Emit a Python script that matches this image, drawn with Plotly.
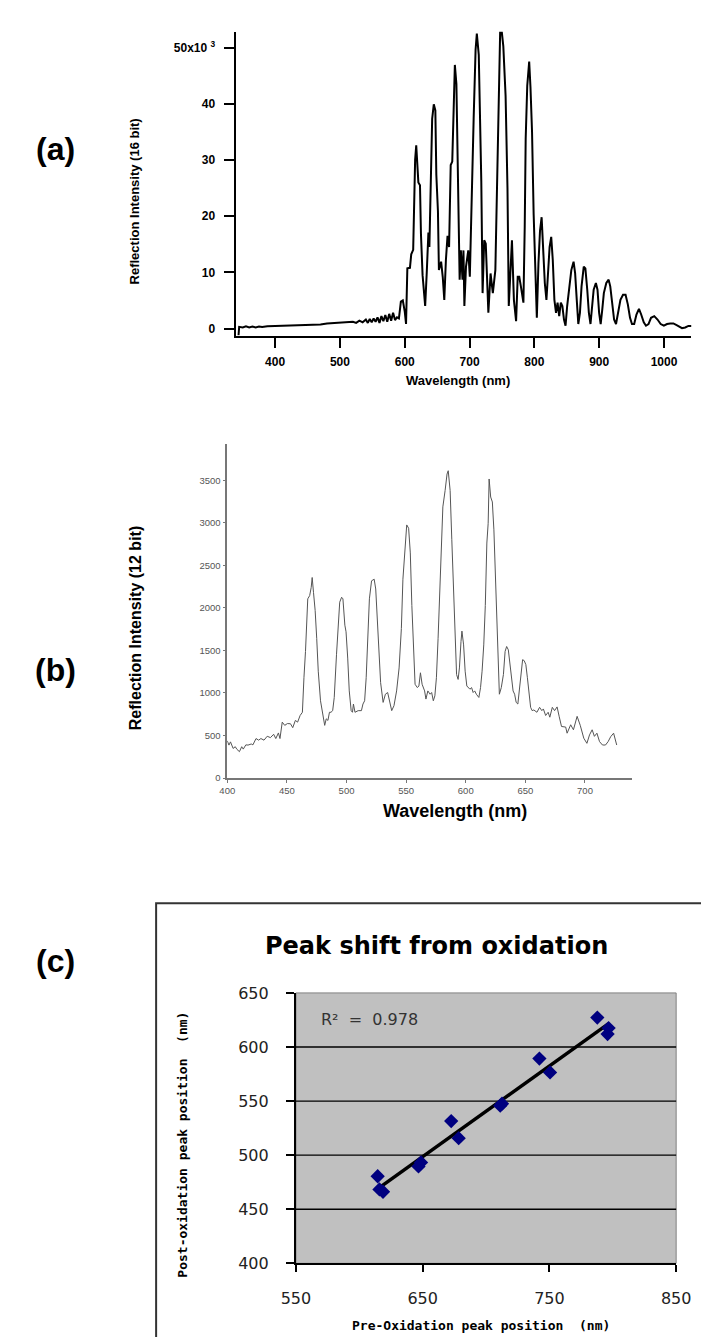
import numpy as np
import plotly.graph_objects as go

W, H = 709, 1337

# ---------------- Panel (a): 16-bit reflection spectrum (values in x10^3) ----------------
wl_a = [343.5, 344.5, 350, 355, 360, 365, 370, 375, 380, 388, 400, 420, 440, 455, 470, 480, 490, 500,
        510, 520, 525, 530, 535, 540, 543, 546, 549, 552, 555, 558, 561, 564, 567, 570, 573, 576, 579,
        582, 585, 588, 591, 594, 597, 600, 602, 604, 608, 610, 613, 614.5, 616, 617.7, 619, 621, 623.5,
        625, 627.5, 631.5, 634, 636.5, 638, 640.4, 642.3, 644.8, 647.2, 648.7, 651.2, 652.7, 656.1,
        658.6, 661, 663.5, 666, 668.4, 670.9, 673.3, 675.8, 677.3, 679.7, 681.7, 683.2, 684.7, 686.6,
        689.1, 690.6, 692, 694.5, 698, 700.4, 702.9, 706.3, 709.3, 711.2, 714.2, 716.2, 718.1, 720.1,
        722.6, 725, 729, 732.4, 735.9, 739.8, 742.3, 744.7, 747.2, 749.7, 752.1, 755.6, 758.5, 760.5,
        763, 765.4, 768.4, 771.8, 774.3, 776.7, 779.2, 783.1, 785.1, 786.6, 789, 792, 794, 796.4, 798.9,
        801.4, 803.8, 806.3, 808.7, 811.2, 813.7, 816.1, 818.6, 821, 823.5, 826, 828.4, 830.9, 833.4,
        835.8, 838.3, 840.8, 843.2, 845.7, 848.1, 850.6, 853.1, 857, 860.5, 862.9, 865.4, 867.8, 870.3,
        872.8, 876.2, 878.7, 881.6, 884.1, 886.6, 888.5, 891.5, 894.9, 897.4, 899.9, 902.3, 904.8,
        907.2, 911, 914.6, 917.1, 920, 923, 926, 929.4, 932.8, 936.8, 940.7, 944.2, 947.6, 950.6, 954,
        957.5, 961.4, 964.8, 968.8, 972.2, 976.1, 980, 985, 990, 994.9, 999.8, 1004.7, 1009.6, 1014.5,
        1019.5, 1024.4, 1027.8, 1032.8, 1037.7, 1042.4]
int_a = [-1.2, 0.3, 0.2, 0.4, 0.2, 0.35, 0.2, 0.35, 0.25, 0.4, 0.45, 0.5, 0.55, 0.6, 0.7, 0.9, 1.0, 1.05,
         1.1, 1.2, 1.0, 1.4, 1.1, 1.6, 1.0, 1.7, 1.1, 1.8, 1.2, 2.0, 1.0, 2.2, 1.3, 2.4, 1.2, 2.6, 1.4,
         2.8, 1.5, 2.0, 1.8, 4.8, 5.0, 3.0, 0.8, 10.7, 10.8, 13.2, 14.0, 26.0, 30.0, 32.6, 30.0, 26.0, 25.5,
         16.8, 9.5, 4.0, 10.1, 17.1, 14.5, 26.2, 37.3, 39.9, 38.8, 27.4, 20.9, 10.4, 11.9,
         9.2, 5.1, 12.2, 16.5, 14.5, 29.1, 29.7, 42.3, 46.9, 43.5, 32.0, 20.9, 8.7, 13.9,
         8.7, 13.9, 4.0, 11.0, 13.9, 9.2, 19.2, 37.3, 49.6, 52.5, 48.7, 39.6, 26.2, 6.3,
         15.7, 15.1, 2.8, 9.8, 6.3, 10.4, 26.2, 41.4, 52.8, 52.8, 50.2, 41.4, 25.0, 4.0,
         11.0, 15.7, 5.1, 1.3, 9.2, 9.2, 7.5, 4.6, 18.0, 33.8, 43.2, 47.5, 42.9, 35.0, 20.3,
         8.7, 1.9, 11.6, 17.4, 19.8, 13.3, 8.1, 5.1, 11.0, 14.5, 16.3, 12.2, 5.1, 2.8,
         4.6, 2.2, 4.6, 4.0, 1.6, 0.5, 4.0, 6.9, 10.4, 11.9, 9.8, 5.1, 0.8, 2.8,
         7.5, 11.0, 10.7, 6.9, 2.8, 0.8, 3.4, 6.9, 8.1, 6.9, 2.8, 0.8, 3.4,
         6.3, 8.1, 8.7, 7.5, 4.6, 1.6, 0.8, 2.8, 5.1, 6.0, 6.0, 4.3, 1.9, 0.8, 0.8,
         2.5, 3.5, 2.5, 1.1, 0.5, 0.8, 1.9, 2.2, 1.6, 0.8, 0.5, 0.8, 0.9, 0.9,
         0.6, 0.35, 0.06, 0.18, 0.46, 0.46]
xticks_a = [400, 500, 600, 700, 800, 900, 1000]
yticks_a = [0, 10, 20, 30, 40, 50]
ytext_a = ["0", "10", "20", "30", "40", "50x10 <sup>3</sup>"]

# ---------------- Panel (b): 12-bit reflection spectrum ----------------
wl_b = [400, 401.4, 402.7, 404.9, 406.7, 408.1, 410.2, 412.1, 413.4, 415.6, 417.4, 420.1, 421.5, 424.1,
        426.3, 428.2, 430.8, 433.5, 436.2, 438.9, 440.7, 442.9, 444.2, 446.1, 448.2, 450.4, 453, 454.9,
        457.1, 459, 461.1, 463, 464.3, 465.6, 467.5, 469.1, 470.4, 471.2, 472.3, 473.7, 475, 476.3,
        478.2, 479.8, 481.7, 483, 484.4, 485.7, 487, 488.4, 489.7, 491.6, 493.2, 494.3, 495.9, 497,
        498.6, 499.6, 501, 502.3, 503.9, 505, 505.8, 507.1, 509.8, 512.5, 513.8, 515.2, 516.5, 517.8,
        519.2, 521, 523.2, 524.5, 525.9, 527.2, 528.6, 530.7, 532.6, 534.5, 536.1, 537.9, 539.8, 542,
        544.1, 546, 547.3, 549.2, 550.5, 552.1, 553.5, 554.8, 556.1, 557.5, 559.4, 560.7, 562, 563.4,
        565.5, 566.6, 568.2, 570.1, 571.4, 572.8, 574.1, 575.4, 576.8, 578.1, 579.4, 580.8, 582.7,
        584.3, 585.3, 586.9, 588.3, 589.6, 591, 592.3, 593.6, 594.7, 596, 596.8, 598.2, 599.5, 600.9,
        602.2, 603.5, 604.9, 606.2, 607.5, 608.9, 611, 612.4, 613.7, 615.1, 616.4, 617.7, 618.8, 619.6,
        620.9, 622.3, 623.6, 625, 625.8, 626.8, 628.2, 629.8, 631.6, 633, 634.3, 635.7, 637, 638.3,
        639.7, 641, 642.3, 643.7, 645, 646.4, 647.7, 649, 650.4, 651.7, 653.1, 654.4, 655.7, 657.1,
        659.7, 661.9, 663.8, 665.1, 667, 669.1, 670.5, 672.6, 674.5, 676.6, 678.4, 680.3, 683.8, 685,
        688, 690.3, 693.4, 696, 699, 701.6, 703.8, 706, 707.9, 710, 712.2, 714.7, 717.2, 719.4, 721.6,
        724, 726.6]
int_b = [437, 387, 425, 348, 368, 337, 310, 368, 340, 390, 387, 400, 390, 464, 445, 464, 445, 491, 475,
         514, 464, 530, 464, 657, 619, 640, 638, 592, 677, 657, 735, 773, 1179, 1488, 2106, 2144, 2241,
         2357, 2183, 1970, 1642, 1256, 908, 754, 619, 696, 677, 773, 773, 792, 947, 1449, 1874, 2067,
         2125, 2106, 1797, 1719, 1410, 1024, 792, 773, 870, 773, 792, 792, 870, 908, 1179, 1642,
         2106, 2318, 2337, 2222, 1797, 1410, 1121, 889, 985, 1005, 908, 792, 850, 1024,
         1294, 1758, 2337, 2801, 2975, 2936, 2646, 2028, 1449, 1102, 1063, 1082, 1237, 1102,
         1024, 928, 1024, 985, 1005, 908, 966, 1179, 1642, 2222, 2801, 3187, 3380,
         3573, 3612, 3380, 2801, 2222, 1642, 1217, 1159, 1294, 1604, 1727, 1565, 1256, 1082,
         1063, 1044, 1063, 1005, 1024, 985, 947, 1063, 1256, 1565, 2028, 2762, 2994, 3515,
         3303, 3245, 2917, 2299, 1797, 1410, 985, 1063, 1217, 1488, 1546, 1507, 1333, 1140,
         1024, 985, 889, 870, 1063, 1256, 1391, 1380, 1333, 1179, 985, 831, 792, 800,
         773, 831, 792, 812, 735, 773, 715, 831, 792, 836, 720, 606, 599, 527,
         626, 567, 725, 620, 468, 408, 507, 567, 490, 527, 428, 388, 388, 428, 487,
         527, 388]
xticks_b = [400, 450, 500, 550, 600, 650, 700]
yticks_b = [0, 500, 1000, 1500, 2000, 2500, 3000, 3500]

# ---------------- Panel (c): peak shift from oxidation ----------------
pre_c = [614.5, 615.9, 618.7, 646.7, 648.7, 672.5, 678.4, 711.2, 712.6, 742.1, 750.5, 787.8, 796.7, 795.9]
post_c = [480.5, 468.3, 466.2, 489.6, 493.3, 531.5, 515.7, 545.8, 547.6, 589.3, 576.5, 627.2, 617.5, 612.0]
xticks_c = [550, 650, 750, 850]
yticks_c = [400, 450, 500, 550, 600, 650]
grid_c = [450, 500, 550, 600]
r2_text = "R²  =  0.978"

slope, icpt = np.polyfit(pre_c, post_c, 1)
fit_x = np.array([min(pre_c), max(pre_c)])
fit_y = slope * fit_x + icpt


def fx(p):
    return p / W


def fy(p):
    return 1 - p / H


fig = go.Figure()
fig.add_trace(go.Scatter(x=wl_a, y=int_a, mode="lines", line=dict(color="black", width=2),
                         xaxis="x", yaxis="y", hoverinfo="skip"))
fig.add_trace(go.Scatter(x=wl_b, y=int_b, mode="lines", line=dict(color="#555555", width=1),
                         xaxis="x2", yaxis="y2", hoverinfo="skip"))
fig.add_trace(go.Scatter(x=fit_x, y=fit_y, mode="lines", line=dict(color="black", width=3.5),
                         xaxis="x3", yaxis="y3", hoverinfo="skip"))
fig.add_trace(go.Scatter(x=pre_c, y=post_c, mode="markers",
                         marker=dict(symbol="diamond", color="#000080", size=11),
                         xaxis="x3", yaxis="y3", hoverinfo="skip"))

bold_a = dict(family="Arial, Liberation Sans", size=12, color="black", weight="bold")
small_b = dict(family="Arial, Liberation Sans", size=9.5, color="#555555")
dj = dict(family="DejaVu Sans, Verdana", size=16, color="#222222")

fig.update_layout(
    width=W, height=H, autosize=False, showlegend=False,
    margin=dict(l=0, r=0, t=0, b=0),
    paper_bgcolor="white", plot_bgcolor="rgba(0,0,0,0)",
    xaxis=dict(domain=[fx(222), fx(698)], range=[339, 1042.4], anchor="y",
               showline=True, linecolor="black", linewidth=2, ticks="outside", ticklen=10,
               tickwidth=2, tickcolor="black", tickvals=xticks_a, tickfont=bold_a,
               showgrid=False, zeroline=False, ticklabelstandoff=4),
    yaxis=dict(domain=[fy(323.3), fy(15)], range=[-1.28, 52.8], anchor="x",
               showline=True, linecolor="black", linewidth=2, ticks="outside", ticklen=10,
               tickwidth=2, tickcolor="black", tickvals=yticks_a, ticktext=ytext_a, tickfont=bold_a,
               showgrid=False, zeroline=False, ticklabelstandoff=6),
    xaxis2=dict(domain=[fx(213.3), fx(636)], range=[400, 739.5], anchor="y2",
                showline=True, linecolor="#777777", linewidth=1.5, ticks="outside", ticklen=3,
                tickcolor="#777777", tickvals=xticks_b, tickfont=small_b,
                showgrid=False, zeroline=False, ticklabelstandoff=0),
    yaxis2=dict(domain=[fy(772), fy(433)], range=[0, 3928], anchor="x2",
                showline=True, linecolor="#777777", linewidth=1.5, ticks="outside", ticklen=3,
                tickcolor="#777777", tickvals=yticks_b, tickfont=small_b,
                showgrid=False, zeroline=False, ticklabelstandoff=0),
    xaxis3=dict(domain=[fx(285), fx(682)], range=[550, 850], anchor="y3",
                showline=True, linecolor="black", linewidth=2, ticks="outside", ticklen=7,
                tickwidth=1.5, tickcolor="black", tickvals=xticks_c, tickfont=dj,
                showgrid=False, zeroline=False, ticklabelstandoff=12),
    yaxis3=dict(domain=[fy(1264.3), fy(990)], range=[400, 650], anchor="x3",
                showline=True, linecolor="black", linewidth=2, ticks="outside", ticklen=8,
                tickwidth=1.5, tickcolor="black", tickvals=yticks_c, tickfont=dj,
                showgrid=False, zeroline=False, ticklabelstandoff=14),
)

shapes = [
    dict(type="rect", xref="paper", yref="paper", x0=fx(139), x1=1.05, y0=-0.05, y1=fy(899),
         line=dict(color="#333333", width=2), fillcolor="rgba(0,0,0,0)", layer="below"),
    dict(type="rect", xref="x3 domain", yref="y3 domain", x0=0, x1=1, y0=0, y1=1,
         line=dict(color="#808080", width=1), fillcolor="#c0c0c0", layer="below"),
]
for g in grid_c:
    shapes.append(dict(type="line", xref="x3 domain", yref="y3", x0=0, x1=1, y0=g, y1=g,
                       line=dict(color="black", width=1.3), layer="below"))
fig.update_layout(shapes=shapes)

ann = []


def add(text, x, y, font, angle=0, xanchor="center"):
    ann.append(dict(text=text, x=fx(x), y=fy(y), xref="paper", yref="paper", showarrow=False,
                    font=font, textangle=angle, xanchor=xanchor, yanchor="middle"))


lbl = dict(family="Arial, Liberation Sans", size=32, color="black", weight="bold")
add("(a)", 34, 134, lbl)
add("(b)", 34, 662, lbl)
add("(c)", 34, 958, lbl)

add("Reflection Intensity (16 bit)", 116, 187,
    dict(family="Arial, Liberation Sans", size=13, color="black", weight="bold"), angle=-90)
add("Wavelength (nm)", 454, 369,
    dict(family="Arial, Liberation Sans", size=13, color="black", weight="bold"))

add("Reflection Intensity (12 bit)", 117, 620,
    dict(family="Arial, Liberation Sans", size=16, color="black", weight="bold"), angle=-90)
add("Wavelength (nm)", 451, 805,
    dict(family="Arial, Liberation Sans", size=18, color="black", weight="bold"))

add("Peak shift from oxidation", 432, 942,
    dict(family="DejaVu Sans, Verdana", size=24, color="black", weight="bold"))
add(r2_text, 309, 1017, dict(family="DejaVu Sans, Verdana", size=16, color="#333333"), xanchor="left")
add("Post-oxidation peak position  (nm)", 167, 1144,
    dict(family="DejaVu Sans Mono", size=13, color="black", weight="bold"), angle=-90)
add("Pre-Oxidation peak position  (nm)", 478, 1327,
    dict(family="DejaVu Sans Mono", size=13, color="black", weight="bold"))
fig.update_layout(annotations=ann)

fig.write_html("out.html")
